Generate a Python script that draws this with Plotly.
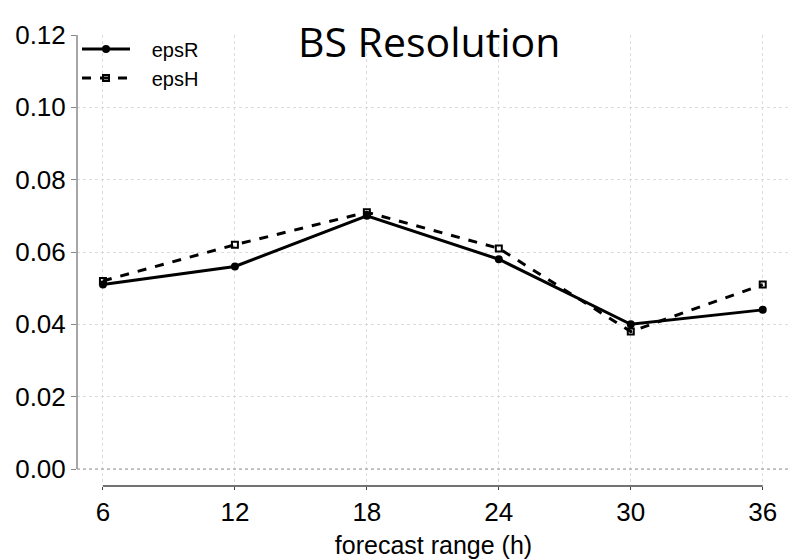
import plotly.graph_objects as go

hours = [6, 12, 18, 24, 30, 36]
eps_r = [0.051, 0.056, 0.070, 0.058, 0.040, 0.044]
eps_h = [0.052, 0.062, 0.071, 0.061, 0.038, 0.051]
y_ticks = [0.00, 0.02, 0.04, 0.06, 0.08, 0.10, 0.12]
series_names = ["epsR", "epsH"]

pad = "\u00a0\u00a0\u00a0"
fig = go.Figure()
fig.add_trace(go.Scatter(x=hours, y=eps_r, name=pad + series_names[0], mode="lines+markers",
                         line=dict(color="black", width=3),
                         marker=dict(symbol="circle", size=8, color="black")))
fig.add_trace(go.Scatter(x=hours, y=eps_h, name=pad + series_names[1], mode="lines+markers",
                         line=dict(color="black", width=3, dash="dash"),
                         marker=dict(symbol="square-open", size=6, color="black",
                                     line=dict(width=2, color="black"))))

font_ax = "Liberation Sans, Arial, sans-serif"
fig.update_layout(
    width=795, height=559,
    margin=dict(l=77, r=5, t=35, b=73),
    paper_bgcolor="white", plot_bgcolor="white",
    showlegend=True,
    legend=dict(x=0.0, y=1.012, xanchor="left", yanchor="top",
                font=dict(family=font_ax, size=20, color="black"),
                bgcolor="rgba(0,0,0,0)", itemwidth=48, tracegroupgap=0),
    xaxis=dict(range=[4.82, 37.24], tickvals=hours, ticktext=[str(h) for h in hours],
               showgrid=True, gridcolor="#dcdcdc", griddash="dot", gridwidth=1,
               zeroline=False, showline=False, automargin=False,
               ticks="outside", ticklen=3, tickcolor="#444",
               tickfont=dict(family=font_ax, size=26, color="black"),
               title=dict(text="forecast range (h)", standoff=14,
                          font=dict(family=font_ax, size=25, color="black"))),
    yaxis=dict(range=[-0.0047, 0.12], tickvals=y_ticks,
               ticktext=[f"{v:.2f}" for v in y_ticks],
               showgrid=True, gridcolor="#dcdcdc", griddash="dot", gridwidth=1,
               zeroline=False, showline=False, automargin=False,
               ticks="outside", ticklen=5, tickcolor="#888",
               tickfont=dict(family=font_ax, size=26, color="black")),
    annotations=[dict(text="BS Resolution", x=0.4937, y=0.9867, xref="paper", yref="paper",
                      yanchor="middle", xanchor="center", showarrow=False,
                      font=dict(family="Open Sans, sans-serif", size=41, color="black"))],
    shapes=[
        dict(type="line", xref="x", yref="paper", x0=hours[0], x1=hours[-1], y0=0, y1=0,
             line=dict(color="#444", width=1.5)),
        dict(type="line", xref="paper", yref="y", x0=0, x1=0, y0=y_ticks[0], y1=y_ticks[-1],
             line=dict(color="#888", width=1.5)),
        dict(type="line", xref="paper", yref="y", x0=0, x1=1, y0=0, y1=0,
             line=dict(color="#999", width=1, dash="dot")),
    ],
)
fig.write_html("out.html")
